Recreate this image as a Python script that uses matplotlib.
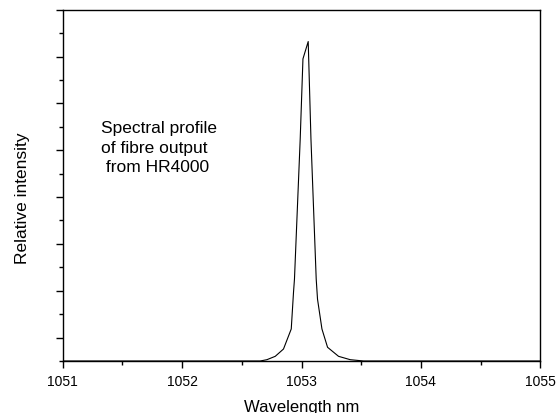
import numpy as np
import matplotlib
matplotlib.use('Agg')
import matplotlib.pyplot as plt
from matplotlib.ticker import MultipleLocator, NullFormatter

plt.rcParams['font.family'] = ['Liberation Sans', 'DejaVu Sans']

# Spektrum, Intensitaet in relativen Einheiten
wavelength = [1051.0, 1052.0, 1052.654, 1052.710, 1052.780, 1052.849, 1052.914,
              1052.933, 1052.941, 1052.989, 1053.012, 1053.056, 1053.079,
              1053.123, 1053.134, 1053.171, 1053.218, 1053.310, 1053.408,
              1053.520, 1054.0, 1055.0]
intensity = [0.0, 0.0, 0.0, 0.028, 0.10, 0.256, 0.684,
             1.47, 1.75, 4.74, 6.45, 6.82, 4.74,
             1.75, 1.32, 0.684, 0.293, 0.10, 0.028,
             0.0, 0.0, 0.0]

x_ticks = [1051, 1052, 1053, 1054, 1055]
note = 'Spectral profile\nof fibre output\n from HR4000'

fig = plt.figure(figsize=(5.56, 4.14), dpi=100)
ax = fig.add_axes([0.1128, 0.1256, 0.859, 0.8486])

ax.plot(wavelength, intensity, color='black', linewidth=0.8)

ax.set_xlim(1051, 1055)
ax.set_ylim(0, 7.5)
ax.set_xticks(x_ticks)
ax.set_xticklabels([str(t) for t in x_ticks])
ax.xaxis.set_minor_locator(MultipleLocator(0.5))
ax.set_yticks(np.arange(0.5, 7.6, 1.0))
ax.yaxis.set_minor_locator(MultipleLocator(0.5))
ax.yaxis.set_major_formatter(NullFormatter())

ax.tick_params(which='major', direction='out', length=5, width=1.0, labelsize=10, pad=4.5)
ax.tick_params(which='minor', direction='out', length=3, width=1.0)
ax.tick_params(top=False, right=False, which='both')
for s in ax.spines.values():
    s.set_linewidth(1.0)

ax.set_xlabel('Wavelength nm', fontsize=12, labelpad=8)
ax.set_ylabel('Relative intensity', fontsize=12.5)
ax.yaxis.set_label_coords(-0.068, 0.465)

ax.text(0.080, 0.685, note, transform=ax.transAxes, fontsize=12.5,
        ha='left', va='top', multialignment='left', linespacing=1.35)

fig.savefig('out.png', dpi=100)
